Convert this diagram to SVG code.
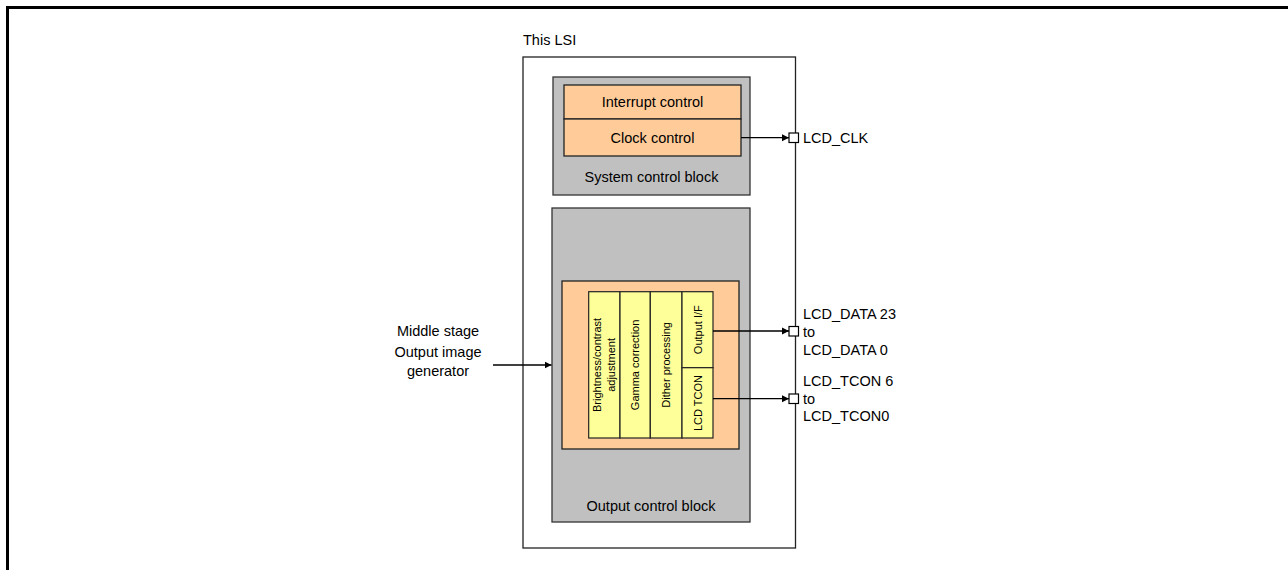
<svg xmlns="http://www.w3.org/2000/svg" width="1288" height="570" viewBox="0 0 1288 570">
<defs>
<marker id="arr" markerWidth="8" markerHeight="8" refX="7" refY="4" orient="auto" markerUnits="userSpaceOnUse">
<path d="M0,0.5 L7,4 L0,7.5 Z" fill="#000"/>
</marker>
<style>
text{font-family:"Liberation Sans",Arial,sans-serif;font-size:14.5px;fill:#000}
.v{font-size:11px}
.gray{fill:#C0C0C0;stroke:#333;stroke-width:1.3}
.org{fill:#FFCC99;stroke:#222;stroke-width:1.3}
.yel{fill:#FFFF99;stroke:#222;stroke-width:1.2}
.pin{fill:#fff;stroke:#000;stroke-width:1.2}
.ln{stroke:#000;stroke-width:1.3;fill:none}
</style>
</defs>
<rect width="1288" height="570" fill="#fff"/>
<g id="frame">
<line x1="6" y1="7.5" x2="1288" y2="7.5" stroke="#000" stroke-width="3"/>
<line x1="7.5" y1="6" x2="7.5" y2="570" stroke="#000" stroke-width="3"/>
</g>
<g id="lsi">
<rect x="523" y="57" width="272.5" height="491" fill="#fff" stroke="#222" stroke-width="1.3"/>
<text x="523" y="45">This LSI</text>
</g>
<g id="system-control-block">
<rect class="gray" x="553" y="77" width="197" height="118"/>
<text x="651.5" y="182" text-anchor="middle">System control block</text>
</g>
<g id="interrupt-control">
<rect class="org" x="564" y="85" width="177" height="34"/>
<text x="652.5" y="107" text-anchor="middle">Interrupt control</text>
</g>
<g id="clock-control">
<rect class="org" x="564" y="119" width="177" height="37"/>
<text x="652.5" y="143" text-anchor="middle">Clock control</text>
</g>
<g id="output-control-block">
<rect class="gray" x="552" y="208" width="198" height="314"/>
<text x="651" y="511" text-anchor="middle">Output control block</text>
</g>
<g id="output-inner">
<rect class="org" x="562" y="281" width="177" height="168"/>
</g>
<g id="brightness">
<rect class="yel" x="588.7" y="291.7" width="31.3" height="146.3"/>
<text class="v" transform="translate(604.4,364.9) rotate(-90)" text-anchor="middle"><tspan x="0" y="-3">Brightness/contrast</tspan><tspan x="0" y="11">adjustment</tspan></text>
</g>
<g id="gamma">
<rect class="yel" x="620" y="291.7" width="30.3" height="146.3"/>
<text class="v" transform="translate(639,364.9) rotate(-90)" text-anchor="middle">Gamma correction</text>
</g>
<g id="dither">
<rect class="yel" x="650.3" y="291.7" width="31.7" height="146.3"/>
<text class="v" transform="translate(670,364.9) rotate(-90)" text-anchor="middle">Dither processing</text>
</g>
<g id="output-if">
<rect class="yel" x="682" y="291.7" width="31" height="76"/>
<text class="v" transform="translate(701.5,329.7) rotate(-90)" text-anchor="middle">Output I/F</text>
</g>
<g id="lcd-tcon">
<rect class="yel" x="682" y="367.7" width="31" height="70.3"/>
<text class="v" transform="translate(701.5,403) rotate(-90)" text-anchor="middle">LCD TCON</text>
</g>
<g id="pins">
<rect class="pin" x="789" y="133" width="9.5" height="9.5"/>
<rect class="pin" x="789" y="326.5" width="9.5" height="9.5"/>
<rect class="pin" x="789" y="394" width="9.5" height="9.5"/>
<text x="803" y="142.5">LCD_CLK</text>
<text x="803" y="319">LCD_DATA 23</text>
<text x="803" y="337">to</text>
<text x="803" y="355">LCD_DATA 0</text>
<text x="803" y="386">LCD_TCON 6</text>
<text x="803" y="404">to</text>
<text x="803" y="421">LCD_TCON0</text>
</g>
<g id="input-label">
<text x="438" y="336" text-anchor="middle">Middle stage</text>
<text x="438" y="357" text-anchor="middle">Output image</text>
<text x="438" y="376" text-anchor="middle">generator</text>
</g>
<g id="connectors">
<line class="ln" x1="741" y1="137.7" x2="789" y2="137.7" marker-end="url(#arr)"/>
<line class="ln" x1="713" y1="331" x2="789" y2="331" marker-end="url(#arr)"/>
<line class="ln" x1="713" y1="398.7" x2="789" y2="398.7" marker-end="url(#arr)"/>
<line class="ln" x1="493" y1="365" x2="551.5" y2="365" marker-end="url(#arr)"/>
</g>
</svg>
